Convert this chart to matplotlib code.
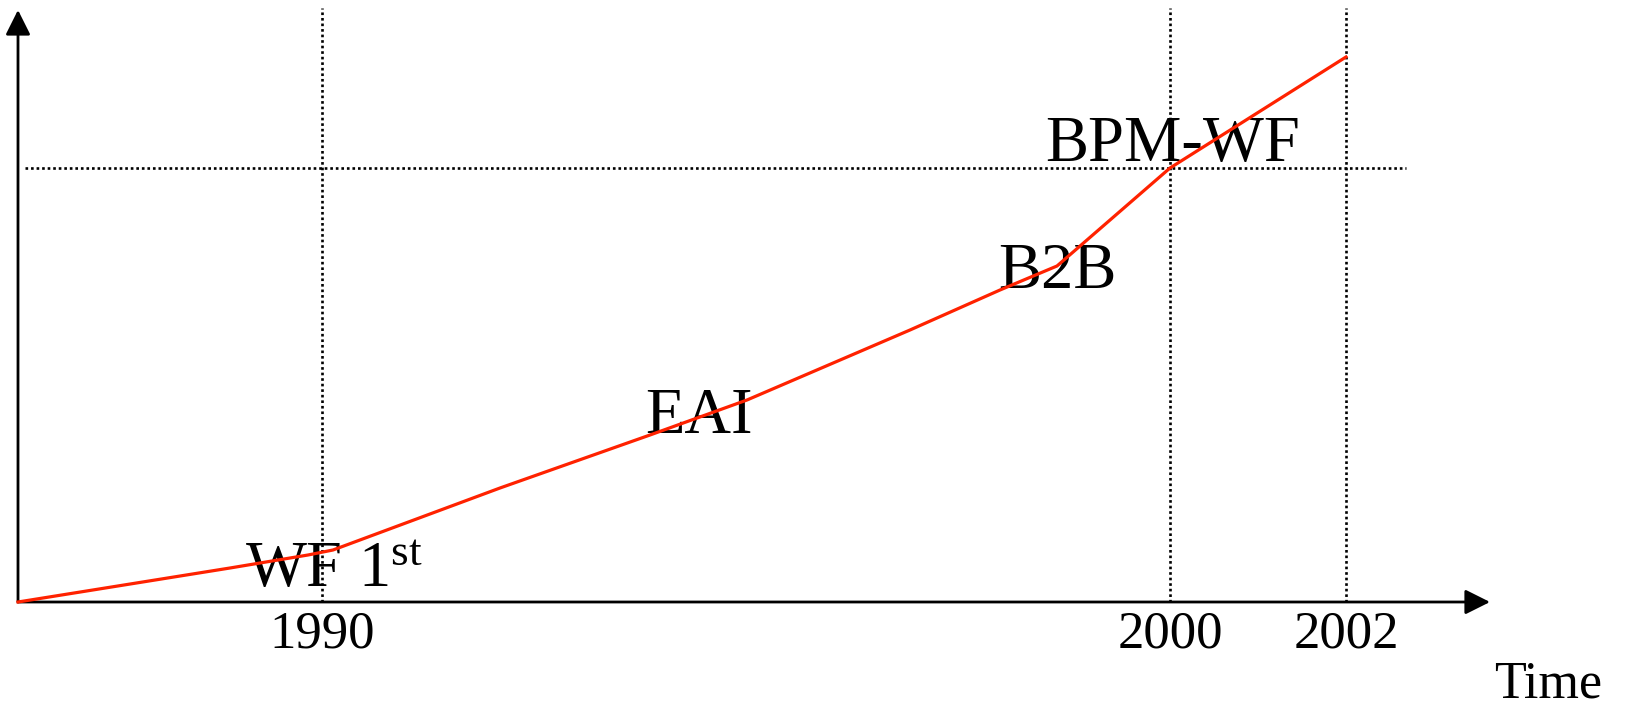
import matplotlib
matplotlib.use("Agg")
import matplotlib.pyplot as plt

plt.rcParams['font.family'] = ['Liberation Serif', 'DejaVu Serif']

# schematic time axis (arbitrary units, origin at the arrow corner)
line_x = [0, 212, 290, 315, 482, 632, 729, 892, 982, 1039, 1152, 1328]
line_y = [0, 34, 47, 52, 114, 167, 202, 272, 312, 336, 434, 545]

year_pos = [304, 1152, 1328]
year_labels = ["1990", "2000", "2002"]
level_y = 434  # horizontal reference line

# labels along the curve: text, x, y (baseline)
stage_labels = ["WF 1$\\mathregular{^{st}}$", "EAI", "B2B", "BPM-WF"]
stage_x = [227, 627, 980, 1027]
stage_y = [15, 169, 314, 441]

fig = plt.figure(figsize=(16.31, 7.03), dpi=100)
ax = fig.add_axes([18 / 1631, 101 / 703, 1472 / 1631, 594 / 703])
ax.set_xlim(0, 1472)
ax.set_ylim(0, 594)
ax.set_axis_off()

# dotted guide lines
dots = (0, (1, 1.1))
for xp in year_pos:
    ax.plot([xp, xp], [0, 594], color='black', lw=1.9, linestyle=dots, clip_on=False)
ax.plot([7, 1388], [level_y, level_y], color='black', lw=1.9, linestyle=dots)

# axes with arrow heads
arrow = dict(arrowstyle='-|>', mutation_scale=38, lw=2.0, color='black', shrinkA=0, shrinkB=0)
ax.annotate('', xy=(1472, 0), xytext=(0, 0), arrowprops=arrow, annotation_clip=False)
ax.annotate('', xy=(0, 592), xytext=(0, 0), arrowprops=arrow, annotation_clip=False)

# the curve
ax.plot(line_x, line_y, color='#ff2200', lw=2.3, solid_joinstyle='round', clip_on=False, zorder=5)

for lab, xs, ys in zip(stage_labels, stage_x, stage_y):
    ax.text(xs, ys, lab, fontsize=46.5, ha='left', va='baseline', zorder=4)

for xp, lab in zip(year_pos, year_labels):
    ax.text(xp, -46, lab, fontsize=38, ha='center', va='baseline')

ax.text(1476, -96, "Time", fontsize=37.5, ha='left', va='baseline')

fig.savefig("out.png", dpi=100)
